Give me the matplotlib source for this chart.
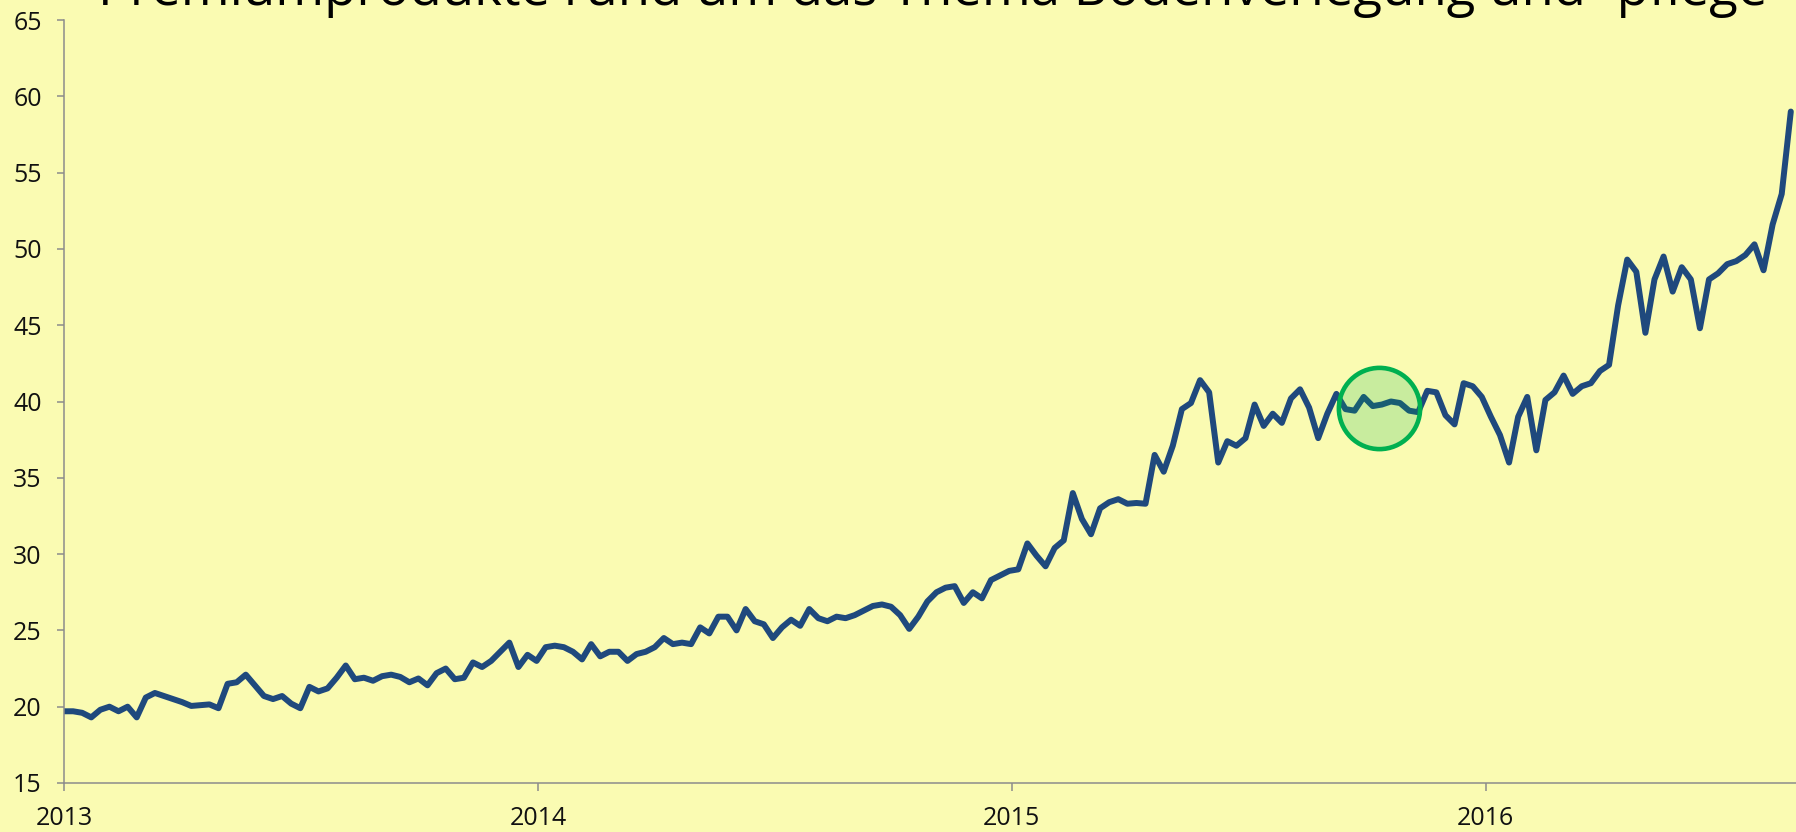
import matplotlib
matplotlib.use("Agg")
import matplotlib.pyplot as plt
import matplotlib.dates as mdates
import pandas as pd

plt.rcParams['font.family'] = ['Open Sans', 'DejaVu Sans']

title = "Premiumprodukte rund um das Thema Bodenverlegung und -pflege"

# weekly index values, starting 2013-01-01
start = "2013-01-01"
values = [
    19.7, 19.7, 19.6, 19.3, 19.8, 20.0, 19.7, 20.0, 19.3, 20.6,
    20.9, 20.7, 20.5, 20.3, 20.05, 20.1, 20.15, 19.9, 21.5, 21.6,
    22.1, 21.4, 20.7, 20.5, 20.7, 20.2, 19.9, 21.3, 21.0, 21.2,
    21.9, 22.7, 21.8, 21.9, 21.7, 22.0, 22.1, 21.95, 21.6, 21.85,
    21.4, 22.2, 22.5, 21.8, 21.9, 22.9, 22.6, 23.0, 23.6, 24.2,
    22.6, 23.4, 23.0, 23.9, 24.0, 23.9, 23.6, 23.1, 24.1, 23.3,
    23.6, 23.6, 23.0, 23.45, 23.6, 23.9, 24.5, 24.1, 24.2, 24.1,
    25.2, 24.8, 25.9, 25.9, 25.0, 26.4, 25.6, 25.4, 24.5, 25.2,
    25.7, 25.3, 26.4, 25.8, 25.6, 25.9, 25.8, 26.0, 26.3, 26.6,
    26.7, 26.55, 26.0, 25.1, 25.9, 26.9, 27.5, 27.8, 27.9, 26.8,
    27.5, 27.1, 28.3, 28.6, 28.9, 29.0, 30.7, 29.9, 29.2, 30.4,
    30.9, 34.0, 32.3, 31.3, 33.0, 33.4, 33.6, 33.3, 33.35, 33.3,
    36.5, 35.4, 37.1, 39.5, 39.9, 41.4, 40.6, 36.0, 37.4, 37.1,
    37.6, 39.8, 38.4, 39.2, 38.6, 40.2, 40.8, 39.6, 37.6, 39.2,
    40.5, 39.5, 39.4, 40.3, 39.7, 39.8, 40.0, 39.9, 39.4, 39.3,
    40.7, 40.6, 39.1, 38.5, 41.2, 41.0, 40.3, 39.0, 37.8, 36.0,
    39.0, 40.3, 36.8, 40.1, 40.6, 41.7, 40.5, 41.0, 41.2, 42.0,
    42.4, 46.3, 49.3, 48.5, 44.5, 48.0, 49.5, 47.2, 48.8, 48.0,
    44.8, 48.0, 48.4, 49.0, 49.2, 49.6, 50.3, 48.6, 51.6, 53.6, 59.0,
]
dates = pd.date_range(start, periods=len(values), freq="7D")

# highlighted plateau
mark_date = pd.Timestamp("2015-10-11")
mark_value = 39.6

bg = "#FAFBB2"
fig = plt.figure(figsize=(17.96, 8.32), dpi=100, facecolor=bg)
ax = fig.add_axes([64 / 1796, 49 / 832, 1732 / 1796, 763 / 832])
ax.set_facecolor(bg)

ax.plot(dates, values, color="#1F497D", lw=4.3, solid_joinstyle="round",
        solid_capstyle="round", zorder=2)
ax.plot([mark_date], [mark_value], marker="o", ms=58.5, mew=3.3,
        mfc=(0.0, 0.69, 0.31, 0.2), mec="#00B050", zorder=3, clip_on=False)

ax.set_ylim(15, 65)
ax.set_yticks(range(15, 66, 5))
ax.set_xlim(pd.Timestamp("2013-01-01"), pd.Timestamp("2016-08-27"))
ax.xaxis.set_major_locator(mdates.YearLocator())
ax.xaxis.set_major_formatter(mdates.DateFormatter("%Y"))

for s in ["top", "right"]:
    ax.spines[s].set_visible(False)
for s in ["left", "bottom"]:
    ax.spines[s].set_color("#8C8C8C")
    ax.spines[s].set_linewidth(1.1)
ax.tick_params(axis="y", length=5, width=1.1, color="#8C8C8C", pad=11,
               labelsize=18, labelcolor="#111111")
ax.tick_params(axis="x", length=5.8, width=1.1, color="#8C8C8C", pad=11,
               labelsize=18, labelcolor="#111111")

fig.text(98 / 1796, 1 - 5 / 832, title, ha="left", va="baseline",
         fontsize=38, color="#000000")

fig.savefig("out.png", dpi=100, facecolor=bg)
